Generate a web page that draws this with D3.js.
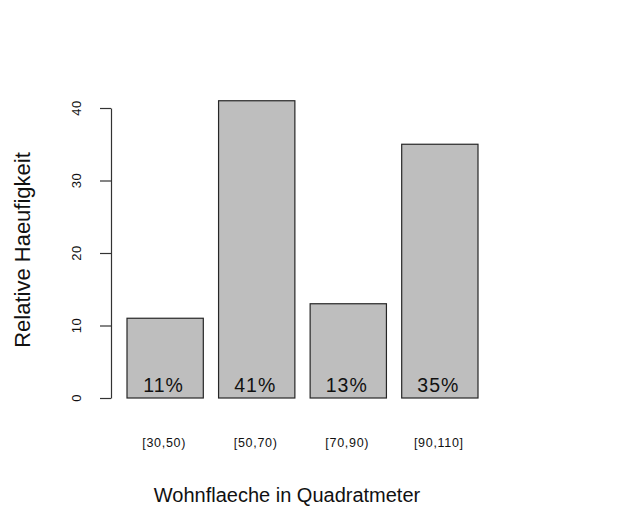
<!DOCTYPE html>
<html><head><meta charset="utf-8">
<script src="https://cdn.jsdelivr.net/npm/d3@7"></script>
<style>body{margin:0;background:#fff}svg{display:block;font-family:Arial,"Liberation Sans",sans-serif}</style>
</head><body><svg id="c" width="623" height="508"></svg>
<script>
const categories = ["[30,50)", "[50,70)", "[70,90)", "[90,110]"];
const values = [11, 41, 13, 35];
const percentLabels = ["11%", "41%", "13%", "35%"];
const yTicks = [0, 10, 20, 30, 40];

const svg = d3.select("#c");
// barplot units: width 1, space 0.2
const x = d3.scaleLinear().domain([0.2, 4.8]).range([127, 478]);
const y = d3.scaleLinear().domain([0, 40]).range([398, 108]);
const left = i => 0.2 + 1.2 * i;

svg.selectAll("rect.bar").data(values).join("rect")
  .attr("class", "bar")
  .attr("x", (d, i) => x(left(i)))
  .attr("width", (d, i) => x(left(i) + 1) - x(left(i)))
  .attr("y", d => y(d))
  .attr("height", d => y(0) - y(d))
  .attr("fill", "#bebebe").attr("stroke", "#262626").attr("stroke-width", 1.2);

svg.selectAll("text.pct").data(percentLabels).join("text")
  .attr("class", "pct")
  .attr("x", (d, i) => x(left(i) + 0.5) - 1.5)
  .attr("y", 392)
  .attr("text-anchor", "middle")
  .attr("font-size", 19.5).attr("letter-spacing", 1).attr("fill", "#111")
  .text(d => d);

svg.selectAll("text.cat").data(categories).join("text")
  .attr("class", "cat")
  .attr("x", (d, i) => x(left(i) + 0.5) - 1)
  .attr("y", 447)
  .attr("text-anchor", "middle")
  .attr("font-size", 12.5).attr("letter-spacing", 0.7).attr("fill", "#111")
  .text(d => d);

const yAxis = svg.append("g").attr("transform", "translate(111,0)")
  .call(d3.axisLeft(y).tickValues(yTicks).tickSize(11).tickSizeOuter(0).tickPadding(0));
yAxis.select(".domain").attr("stroke", "#333").attr("stroke-width", 1.2);
yAxis.selectAll(".tick line").attr("stroke", "#333").attr("stroke-width", 1.2);
yAxis.selectAll(".tick text").remove();
svg.selectAll("text.ytick").data(yTicks).join("text")
  .attr("class", "ytick")
  .attr("transform", d => `translate(81,${y(d)}) rotate(-90)`)
  .attr("text-anchor", "middle")
  .attr("font-size", 13).attr("letter-spacing", 0.5).attr("fill", "#111")
  .text(d => d);

svg.append("text")
  .attr("transform", "translate(30,250) rotate(-90)")
  .attr("text-anchor", "middle").attr("font-size", 22).attr("fill", "#111")
  .text("Relative Haeufigkeit");

svg.append("text")
  .attr("x", 287).attr("y", 502)
  .attr("text-anchor", "middle").attr("font-size", 20).attr("fill", "#111")
  .text("Wohnflaeche in Quadratmeter");
</script></body></html>
